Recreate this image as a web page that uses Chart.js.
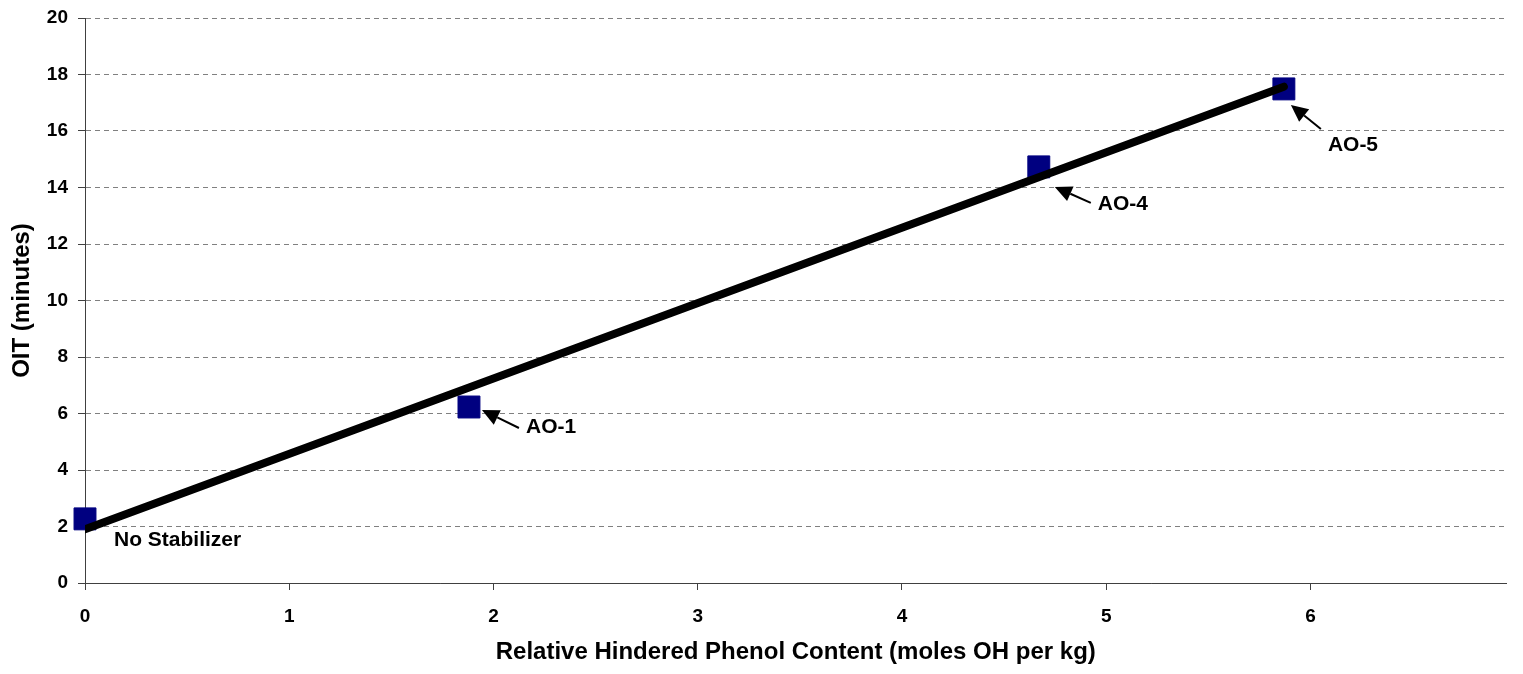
<!DOCTYPE html>
<html>
<head>
<meta charset="utf-8">
<script src="https://cdn.jsdelivr.net/npm/chart.js@4.4.1/dist/chart.umd.min.js"></script>
<style>
  html, body { margin: 0; padding: 0; background: #fff; overflow: hidden; }
  canvas { display: block; }
</style>
</head>
<body>
<canvas id="oitChart" width="1523" height="674"></canvas>
<script>
// data
const sampleNames = ['No Stabilizer', 'AO-1', 'AO-4', 'AO-5'];
const phenolContent = [0, 1.88, 4.67, 5.87];
const oitMinutes = [2.27, 6.23, 14.73, 17.49];

// fitted trend line, two end points
const trendX = [0, 5.87];
const trendY = [1.9, 17.57];

const xTicks = [0, 1, 2, 3, 4, 5, 6];
const yTicks = [0, 2, 4, 6, 8, 10, 12, 14, 16, 18, 20];

// label placement, pixel offsets from each point (arrow tip, arrow tail, text)
const labelLayout = [
  { text: [29, 21], arrow: null },
  { text: [57, 20], arrow: { tip: [13, 3], tail: [50, 21] } },
  { text: [59, 37], arrow: { tip: [16, 20], tail: [52, 36] } },
  { text: [44, 56], arrow: { tip: [7, 16], tail: [37, 40] } },
];

const FONT = "'Liberation Sans', Arial, sans-serif";

const labelPlugin = {
  id: 'pointLabels',
  afterDatasetsDraw(chart) {
    const { ctx, scales: { x, y } } = chart;
    ctx.save();
    ctx.fillStyle = '#000';
    ctx.strokeStyle = '#000';
    ctx.font = 'bold 21px ' + FONT;
    ctx.textBaseline = 'middle';
    ctx.textAlign = 'left';
    sampleNames.forEach((name, i) => {
      const px = x.getPixelForValue(phenolContent[i]);
      const py = y.getPixelForValue(oitMinutes[i]);
      const lay = labelLayout[i];
      ctx.fillText(name, px + lay.text[0], py + lay.text[1]);
      if (lay.arrow) {
        const tx = px + lay.arrow.tip[0], ty = py + lay.arrow.tip[1];
        const sx = px + lay.arrow.tail[0], sy = py + lay.arrow.tail[1];
        const ang = Math.atan2(ty - sy, tx - sx);
        const headLen = 17, headW = 8;
        const bx = tx - headLen * Math.cos(ang), by = ty - headLen * Math.sin(ang);
        ctx.lineWidth = 2;
        ctx.beginPath();
        ctx.moveTo(sx, sy);
        ctx.lineTo(bx, by);
        ctx.stroke();
        ctx.beginPath();
        ctx.moveTo(tx, ty);
        ctx.lineTo(bx + headW * Math.sin(ang), by - headW * Math.cos(ang));
        ctx.lineTo(bx - headW * Math.sin(ang), by + headW * Math.cos(ang));
        ctx.closePath();
        ctx.fill();
      }
    });
    ctx.restore();
  }
};

new Chart(document.getElementById('oitChart'), {
  type: 'scatter',
  data: {
    datasets: [
      {
        label: 'Trend',
        type: 'line',
        data: trendX.map((v, i) => ({ x: v, y: trendY[i] })),
        borderColor: '#000',
        borderWidth: 8,
        borderCapStyle: 'round',
        pointRadius: 0,
        fill: false,
        clip: 0,
      },
      {
        label: 'OIT',
        data: phenolContent.map((v, i) => ({ x: v, y: oitMinutes[i] })),
        pointStyle: 'rect',
        pointRadius: 15.5,
        pointHoverRadius: 15.5,
        backgroundColor: '#000080',
        borderColor: '#000080',
        borderWidth: 1,
        clip: false,
      },
    ],
  },
  options: {
    responsive: false,
    animation: false,
    layout: { padding: { left: 0, right: 13, top: 18, bottom: 0 } },
    plugins: {
      legend: { display: false },
      tooltip: { enabled: false },
    },
    scales: {
      x: {
        type: 'linear',
        min: 0,
        max: 6.96,
        afterBuildTicks: (s) => { s.ticks = xTicks.map(v => ({ value: v })); },
        afterFit: (s) => { s.height = 91; s.paddingLeft = 0; s.paddingRight = 0; },
        ticks: {
          includeBounds: false,
          color: '#000',
          font: { family: FONT, size: 19, weight: 'bold' },
          padding: 15,
        },
        grid: {
          drawOnChartArea: false,
          drawTicks: true,
          tickLength: 7,
          tickColor: '#404040',
        },
        border: { display: true, color: '#404040', width: 1 },
        title: {
          display: true,
          text: 'Relative Hindered Phenol Content (moles OH per kg)',
          color: '#000',
          font: { family: FONT, size: 24, weight: 'bold' },
          padding: { top: 0, bottom: 7 },
        },
      },
      y: {
        type: 'linear',
        min: 0,
        max: 20,
        afterBuildTicks: (s) => { s.ticks = yTicks.map(v => ({ value: v })); },
        afterFit: (s) => { s.width = 85; s.paddingTop = 0; s.paddingBottom = 0; },
        ticks: {
          color: '#000',
          font: { family: FONT, size: 19, weight: 'bold' },
          padding: 10,
        },
        grid: {
          color: '#808080',
          lineWidth: 1,
          drawTicks: true,
          tickLength: 7,
          tickColor: '#404040',
          tickBorderDash: [],
        },
        border: { display: true, color: '#404040', width: 1, dash: [5, 4] },
        title: {
          display: true,
          text: 'OIT (minutes)',
          color: '#000',
          font: { family: FONT, size: 24, weight: 'bold' },
          padding: { top: 8, bottom: 0 },
        },
      },
    },
  },
  plugins: [labelPlugin],
});
</script>
</body>
</html>
